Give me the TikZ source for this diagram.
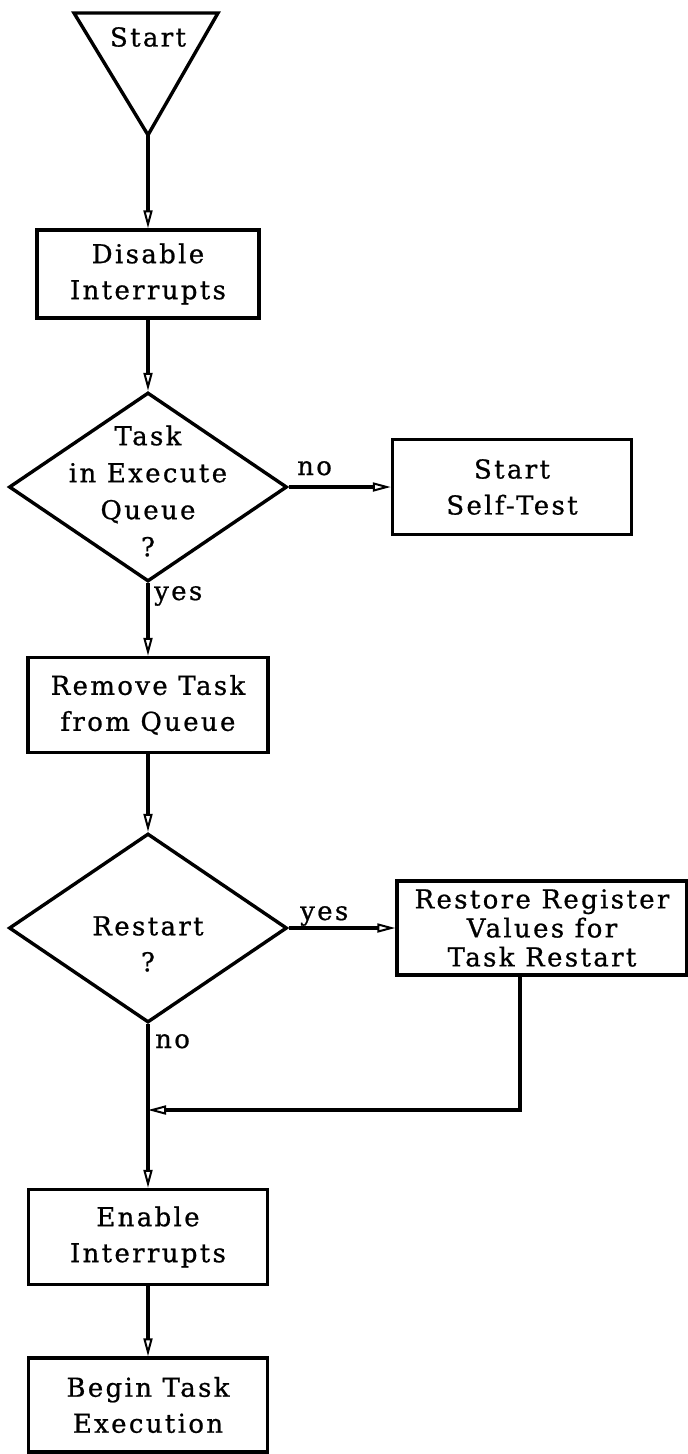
\documentclass[tikz,border=0pt]{standalone}
\usepackage{fontspec}
\usetikzlibrary{arrows.meta,shapes.geometric}
\newfontfamily\flowfont[LetterSpace=9,FakeBold=0.8]{DejaVu Serif}
\begin{document}
\begin{tikzpicture}[x=1pt,y=-1pt,
  every node/.style={font=\flowfont\fontsize{26}{36}\selectfont, inner sep=0pt},
  box/.style={draw, line width=3.4pt, rectangle, align=center, minimum height=95pt},
  decision/.style={draw, line width=3.4pt, diamond, minimum width=278pt, minimum height=189pt},
  flow/.style={line width=3.4pt, -{Triangle[open,length=18pt,width=9pt,line width=2pt]}},
  tag/.style={anchor=base west}]
\useasboundingbox (0,0) rectangle (688,1454);

% start symbol
\draw[line width=3.4pt, line join=miter] (74,13) -- (218,13) -- (148,135) -- cycle;
\coordinate (apex) at (148,135);
\node (start) at (148,37) {Start};

% main column
\node[box, minimum width=222pt, minimum height=88pt] (disable) at (148,274) {Disable\\Interrupts};
\node[decision] (q1) at (148,487) {};
\node[align=center, font=\flowfont\fontsize{26}{37}\selectfont] (q1text) at (148,491) {Task\\in Execute\\Queue\\?};
\node[box, minimum width=239pt] (selftest) at (512,487) {Start\\Self-Test};
\node[box, minimum width=240pt] (remove) at (148,705) {Remove Task\\from Queue};
\node[decision] (q2) at (148,928) {};
\node[align=center] (q2text) at (148,944) {Restart\\?};
\node[box, minimum width=290pt, minimum height=94pt, font=\flowfont\fontsize{26}{29}\selectfont] (restore) at (542,928) {Restore Register\\Values for\\Task Restart};
\node[box, minimum width=239pt] (enable) at (148,1237) {Enable\\Interrupts};
\node[box, minimum width=239pt, minimum height=94pt] (begin) at (148,1405) {Begin Task\\Execution};

% connectors
\draw[flow] (apex) -- (disable.north);
\draw[flow] (disable.south) -- (q1.north);
\draw[flow] (q1.east) -- (selftest.west);
\draw[flow] (q1.south) -- (remove.north);
\draw[flow] (remove.south) -- (q2.north);
\draw[flow] (q2.east) -- (restore.west);
\draw[flow] (q2.south) -- (enable.north);
\coordinate (bend) at (520,1110);
\coordinate (join) at (148,1110);
\draw[flow] (restore.south -| bend) -- (bend) -- (join);
\draw[flow] (enable.south) -- (begin.north);

% branch labels
\node[tag] (no1) at (297,475) {no};
\node[tag] (yes1) at (154,600) {yes};
\node[tag] (yes2) at (300,920) {yes};
\node[tag] (no2) at (155,1048) {no};
\end{tikzpicture}
\end{document}
